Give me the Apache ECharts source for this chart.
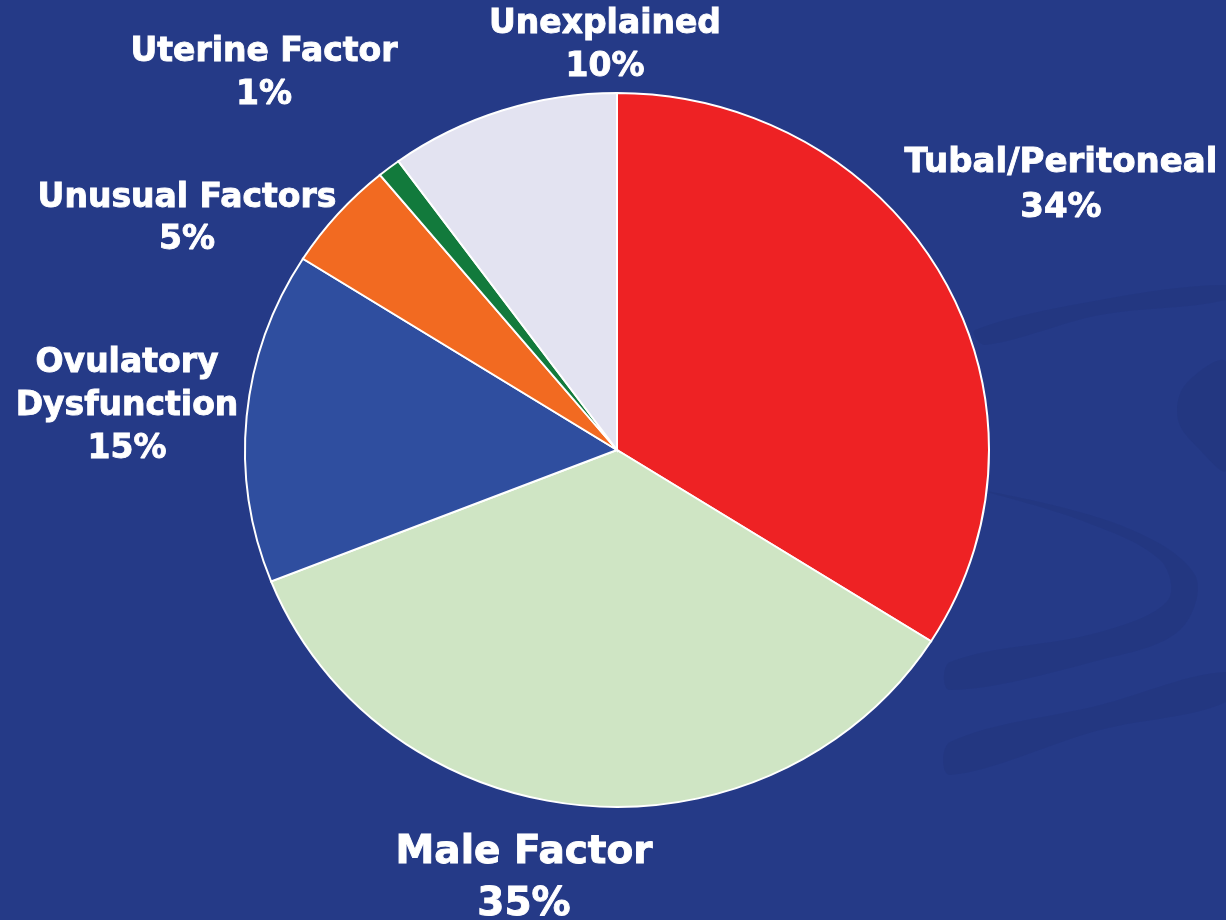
<!DOCTYPE html>
<html>
<head>
<meta charset="utf-8">
<script src="https://cdn.jsdelivr.net/npm/echarts@6/dist/echarts.min.js"></script>
<style>
html,body{margin:0;padding:0;background:#253a87;}
#chart{width:1226px;height:920px;}
</style>
</head>
<body>
<div id="chart"></div>
<script>
// ---- data ----
var categories = ['Tubal/Peritoneal', 'Male Factor', 'Ovulatory Dysfunction', 'Unusual Factors', 'Uterine Factor', 'Unexplained'];
var percents = [34, 35, 15, 5, 1, 10];

// ---- styles / layout (kept separate from data) ----
var sliceColors = ['#ee2224', '#cfe5c4', '#2f4e9f', '#f26a21', '#127a3c', '#e3e3f1'];
var labelCenters = [[1061, 186], [524, 879], [127, 406], [187, 219], [264, 74], [605, 46]];
var labelSizes = [34, 39, 33, 33, 33, 33];
var labelLineHeights = [45, 52, 43, 42, 43, 43];
var pieCenter = [617, 450];
var pieRadiusX = 372, pieRadiusY = 357;

var chart = echarts.init(document.getElementById('chart'), null, {renderer: 'canvas'});

var swooshColor = 'rgba(25,40,100,0.15)';
function band(pts) {
  return {type: 'polygon', z: -10, silent: true, shape: {points: pts, smooth: 0.35}, style: {fill: swooshColor}};
}

var total = percents.reduce(function (a, b) { return a + b; }, 0);

function renderItem(params, api) {
  var i = params.dataIndex;
  var before = 0;
  for (var k = 0; k < i; k++) before += percents[k];
  var v = api.value(1);
  var start = -Math.PI / 2 + before / total * Math.PI * 2;
  var end = start + v / total * Math.PI * 2;
  var name = categories[i].replace('Ovulatory ', 'Ovulatory\n');
  var c = labelCenters[i];
  return {
    type: 'group',
    children: [
      {
        type: 'sector',
        shape: {cx: pieCenter[0], cy: pieCenter[1], r0: 0, r: pieRadiusX, startAngle: start, endAngle: end, clockwise: true},
        originX: pieCenter[0], originY: pieCenter[1],
        scaleY: pieRadiusY / pieRadiusX,
        style: {fill: sliceColors[i], stroke: '#ffffff', lineWidth: 2}
      },
      {
        type: 'text',
        x: c[0], y: c[1],
        style: {
          text: name + '\n' + v + '%',
          fill: '#ffffff',
          stroke: '#ffffff',
          lineWidth: 0.9,
          font: 'bold ' + labelSizes[i] + 'px "DejaVu Sans", Verdana, sans-serif',
          lineHeight: labelLineHeights[i],
          align: 'center',
          verticalAlign: 'middle'
        }
      }
    ]
  };
}

var option = {
  backgroundColor: '#253a87',
  animation: false,
  graphic: [
    band([[975, 330], [1100, 300], [1226, 285], [1226, 300], [1100, 315], [985, 345]]),
    band([[1226, 362], [1185, 385], [1178, 420], [1200, 450], [1226, 470]]),
    band([[980, 490], [1120, 525], [1195, 575], [1180, 630], [1100, 660], [950, 690], [950, 662], [1100, 632], [1168, 600], [1160, 560], [1080, 520]]),
    band([[950, 742], [1100, 705], [1226, 672], [1226, 702], [1100, 730], [950, 775]])
  ],
  series: [{
    type: 'custom',
    coordinateSystem: 'none',
    renderItem: renderItem,
    silent: true,
    data: categories.map(function (name, i) { return [i, percents[i]]; })
  }]
};
chart.setOption(option);
</script>
</body>
</html>
